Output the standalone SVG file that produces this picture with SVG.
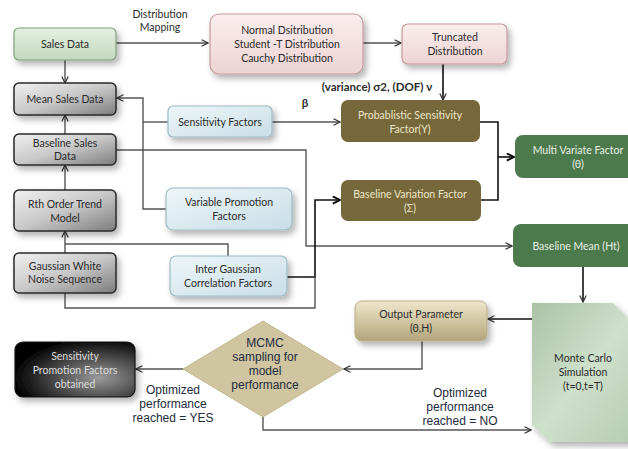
<svg xmlns="http://www.w3.org/2000/svg" width="628" height="449" viewBox="0 0 628 449">
<defs>
<linearGradient id="gGreen" x1="0" y1="0" x2="0" y2="1"><stop offset="0" stop-color="#e6f0e2"/><stop offset="1" stop-color="#c3d9bd"/></linearGradient>
<linearGradient id="gPink" x1="0" y1="0" x2="0" y2="1"><stop offset="0" stop-color="#fbeeee"/><stop offset="1" stop-color="#eed3d3"/></linearGradient>
<linearGradient id="gGray" x1="0" y1="0" x2="1" y2="1"><stop offset="0" stop-color="#f0f0f0"/><stop offset="0.5" stop-color="#c8c8c8"/><stop offset="1" stop-color="#7c7c7c"/></linearGradient>
<linearGradient id="gBlue" x1="0" y1="0" x2="1" y2="1"><stop offset="0" stop-color="#eef6f8"/><stop offset="1" stop-color="#c8dee6"/></linearGradient>
<linearGradient id="gTan" x1="0" y1="0" x2="0" y2="1"><stop offset="0" stop-color="#efe7cc"/><stop offset="1" stop-color="#b3a57a"/></linearGradient>
<linearGradient id="gMC" x1="0" y1="0" x2="1" y2="1"><stop offset="0" stop-color="#a9c3a4"/><stop offset="0.5" stop-color="#cfe0cc"/><stop offset="1" stop-color="#b4ccaf"/></linearGradient>
<radialGradient id="gBlack" cx="0.7" cy="0.65" r="0.7"><stop offset="0" stop-color="#9a9a9a"/><stop offset="1" stop-color="#050505"/></radialGradient>
<filter id="sh" x="-20%" y="-20%" width="150%" height="160%"><feDropShadow dx="3" dy="4" stdDeviation="3" flood-color="#000" flood-opacity="0.3"/></filter>
<marker id="ar" viewBox="0 0 10 10" refX="9" refY="5" markerWidth="8" markerHeight="8" orient="auto" markerUnits="userSpaceOnUse"><path d="M1,1 L9,5 L1,9" fill="none" stroke="#333" stroke-width="1.5"/></marker>
<marker id="arb" viewBox="0 0 10 10" refX="9" refY="5" markerWidth="9" markerHeight="9" orient="auto" markerUnits="userSpaceOnUse"><path d="M1,1 L9,5 L1,9" fill="none" stroke="#000" stroke-width="2"/></marker>
</defs>
<style>
text{font-family:Lato,"Liberation Sans",sans-serif;font-size:10.5px;fill:#2b2b2b;text-anchor:middle}
.w{fill:#eee6c8}
.wg{fill:#e8efe6}
.a{font-family:"Liberation Sans",Arial,sans-serif;font-size:12px;fill:#1e2a40}
.b{font-weight:bold;font-size:11.5px}
.c{fill:none;stroke:#555;stroke-width:1.4}
.ck{fill:none;stroke:#111;stroke-width:1.6}
</style>
<g id="connectors">
<path class="c" d="M116,43 H208" marker-end="url(#ar)"/>
<path class="c" d="M363,43 H401" marker-end="url(#ar)"/>
<path class="ck" d="M443,64 V100" marker-end="url(#ar)"/>
<path class="c" d="M65,60 V83" marker-end="url(#ar)"/>
<path class="c" d="M65,134 V115" marker-end="url(#ar)"/>
<path class="c" d="M65,190 V165" marker-end="url(#ar)"/>
<path class="c" d="M65,253 V231" marker-end="url(#ar)"/>
<path class="c" d="M228,256 V244 H65"/>
<path class="c" d="M166,209 H143 V98 H117" marker-end="url(#ar)"/>
<path class="c" d="M168,122 H143"/>
<path class="c" d="M272,122 H340" marker-end="url(#ar)"/>
<path class="c" d="M116,150 H306 V246 H512" marker-end="url(#ar)"/>
<path class="ck" d="M287,277 H315 V200 H340" marker-end="url(#arb)"/>
<path class="c" d="M65,293 V308 H315 V277"/>
<path class="ck" d="M480,122 H498 V200 H481"/>
<path class="ck" d="M498,157 H514" marker-end="url(#arb)"/>
<path class="ck" d="M583,267 V302" marker-end="url(#ar)"/>
<path class="ck" d="M532,319 H488" marker-end="url(#ar)"/>
<path class="c" d="M422,341 V369 H344" marker-end="url(#ar)"/>
<path class="c" d="M183,369 H136" marker-end="url(#ar)"/>
<path class="c" d="M263,417 V430 H531" marker-end="url(#ar)"/>
</g>
<text x="160" y="18">Distribution</text>
<text x="160" y="31">Mapping</text>
<text x="377" y="91" class="b">(variance) σ2, (DOF)  ν</text>
<text x="305" y="107" class="b">β</text>
<text x="173" y="394" class="a">Optimized</text>
<text x="173" y="408" class="a">performance</text>
<text x="173" y="422" class="a">reached = YES</text>
<text x="460" y="397" class="a">Optimized</text>
<text x="460" y="411" class="a">performance</text>
<text x="460" y="425" class="a">reached = NO</text>
<g id="sales-data"><rect x="14" y="28" width="102" height="32" rx="5" fill="url(#gGreen)" stroke="#7fa07c" stroke-width="1.2" filter="url(#sh)"/><text x="65" y="48">Sales Data</text></g>
<g id="dist"><rect x="210" y="14" width="153" height="60" rx="9" fill="url(#gPink)" stroke="#c79a9a" stroke-width="1.2" filter="url(#sh)"/><text x="287" y="34">Normal Dsitribution</text><text x="287" y="48">Student -T  Distribution</text><text x="287" y="62">Cauchy Distribution</text></g>
<g id="truncated"><rect x="402" y="24" width="105" height="40" rx="6" fill="url(#gPink)" stroke="#c79a9a" stroke-width="1.2" filter="url(#sh)"/><text x="455" y="41">Truncated</text><text x="455" y="55">Distribution</text></g>
<g id="mean-sales"><rect x="14" y="83" width="102" height="32" rx="5" fill="url(#gGray)" stroke="#2a2a2a" stroke-width="1.5" filter="url(#sh)"/><text x="65" y="103">Mean Sales Data</text></g>
<g id="baseline-sales"><rect x="14" y="134" width="102" height="31" rx="5" fill="url(#gGray)" stroke="#2a2a2a" stroke-width="1.5" filter="url(#sh)"/><text x="65" y="147">Baseline Sales</text><text x="65" y="160">Data</text></g>
<g id="rth"><rect x="14" y="190" width="102" height="41" rx="5" fill="url(#gGray)" stroke="#2a2a2a" stroke-width="1.5" filter="url(#sh)"/><text x="65" y="208">Rth Order Trend</text><text x="65" y="222">Model</text></g>
<g id="gaussian"><rect x="14" y="253" width="102" height="40" rx="5" fill="url(#gGray)" stroke="#2a2a2a" stroke-width="1.5" filter="url(#sh)"/><text x="65" y="270">Gaussian White</text><text x="65" y="283">Noise Sequence</text></g>
<g id="sensitivity"><rect x="168" y="106" width="104" height="31" rx="5" fill="url(#gBlue)" stroke="#9dbac4" stroke-width="1.2" filter="url(#sh)"/><text x="220" y="126">Sensitivity Factors</text></g>
<g id="variable-promo"><rect x="166" y="188" width="126" height="42" rx="7" fill="url(#gBlue)" stroke="#9dbac4" stroke-width="1.2" filter="url(#sh)"/><text x="229" y="206">Variable Promotion</text><text x="229" y="220">Factors</text></g>
<g id="inter-gaussian"><rect x="170" y="256" width="117" height="40" rx="6" fill="url(#gBlue)" stroke="#9dbac4" stroke-width="1.2" filter="url(#sh)"/><text x="228" y="273">Inter Gaussian</text><text x="228" y="287">Correlation Factors</text></g>
<g id="prob-sens"><rect x="341" y="100" width="139" height="42" rx="7" fill="#76683a"/><text x="410" y="119" class="w">Probablistic Sensitivity</text><text x="410" y="133" class="w">Factor(Y)</text></g>
<g id="baseline-var"><rect x="341" y="180" width="140" height="41" rx="7" fill="#76683a"/><text x="410" y="198" class="w">Baseline Variation Factor</text><text x="410" y="212" class="w">(Σ)</text></g>
<g id="multi-variate"><rect x="515" y="135" width="125" height="43" rx="8" fill="#4d7a4c"/><text x="578" y="154" class="wg">Multi Variate Factor</text><text x="578" y="168" class="wg">(θ)</text></g>
<g id="baseline-mean"><rect x="513" y="224" width="127" height="43" rx="8" fill="#4d7a4c"/><text x="576" y="250" class="wg">Baseline Mean (Ht)</text></g>
<g id="output-param"><rect x="355" y="301" width="132" height="40" rx="7" fill="url(#gTan)" stroke="#b8ab80" stroke-width="1" filter="url(#sh)"/><text x="421" y="318">Output Parameter</text><text x="421" y="332">(θ,H)</text></g>
<g id="monte-carlo"><path d="M532,303 H613 L640,330 V442 H550 L532,425 Z" fill="url(#gMC)" filter="url(#sh)"/><text x="583" y="362">Monte Carlo</text><text x="583" y="376">Simulation</text><text x="583" y="390">(t=0,t=T)</text></g>
<g id="mcmc"><path d="M263,321 L343,369 L263,417 L183,369 Z" fill="#cfc5a0" stroke="#c2b78f" stroke-width="1"/><text x="265" y="347" class="a">MCMC</text><text x="265" y="361" class="a">sampling for</text><text x="265" y="375" class="a">model</text><text x="265" y="389" class="a">performance</text></g>
<g id="sens-promo"><rect x="15" y="342" width="120" height="55" rx="8" fill="url(#gBlack)" stroke="#111" stroke-width="1.2" filter="url(#sh)"/><text x="75" y="360" style="fill:#ddd">Sensitivity</text><text x="75" y="374" style="fill:#ddd">Promotion Factors</text><text x="75" y="388" style="fill:#ddd">obtained</text></g>
</svg>
